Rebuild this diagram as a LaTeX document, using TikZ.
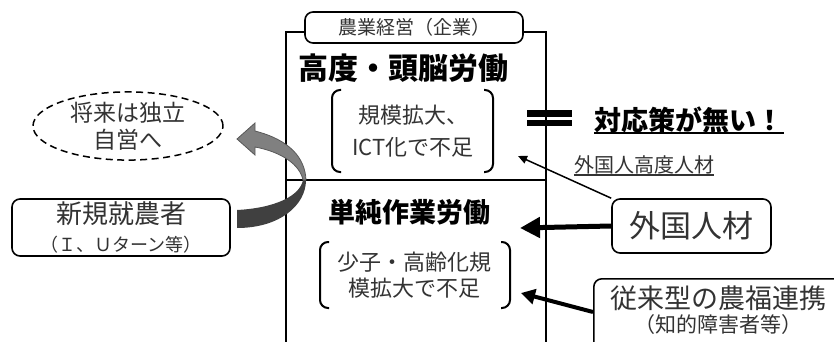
\documentclass[tikz,border=0pt]{standalone}
\usepackage{fontspec}
\setmainfont{Noto Sans CJK JP}
\usetikzlibrary{arrows.meta,calc,shapes.geometric}
\begin{document}
\begin{tikzpicture}[x=1pt,y=-1pt,
  txt/.style={inner sep=0pt, text=black!80},
  btxt/.style={inner sep=0pt, text=black, font=\bfseries},
  rbox/.style={draw, line width=1.6pt, rounded corners=8pt, fill=white, inner sep=0pt, text=black!80, align=center},
  bline/.style={line width=2.4pt},
  brk/.style={line width=2pt, rounded corners=8pt},
  thickarrow/.style={line width=5pt, -{Triangle[length=20pt,width=20pt]}},
  midarrow/.style={line width=4pt, -{Triangle[length=14pt,width=15pt]}},
  thinarrow/.style={line width=1.5pt, -{Triangle[length=9pt,width=8pt]}},
]
\useasboundingbox (0,0) rectangle (834,342);
\clip (0,0) rectangle (834,342);

% main frame
\coordinate (fbl) at (286,345);
\coordinate (ftl) at (286,32);
\coordinate (ftr) at (546,32);
\coordinate (fbr) at (546,345);
\coordinate (dl) at (286,180);
\coordinate (dr) at (546,180);
\draw[bline] (fbl) -- (ftl) -- (ftr) -- (fbr);
\draw[bline] (dl) -- (dr);

% label on top
\node[rbox, minimum width=218pt, minimum height=31pt, font=\fontsize{19}{22}\selectfont] (label) at (414,27.5) {農業経営（企業）};

% upper section
\node[btxt, font=\fontsize{30}{34}\selectfont\bfseries] (hi) at (403,68) {高度・頭脳労働};
\node[txt, align=center, font=\fontsize{22}{32}\selectfont] (hitxt) at (413,131) {規模拡大、\\ICT化で不足};
\draw[brk] (341,90) -- (332,90) -- (332,172) -- (341,172);
\draw[brk] (484,90) -- (493,90) -- (493,172) -- (484,172);

% lower section
\node[btxt, font=\fontsize{27}{30}\selectfont\bfseries] (lo) at (409,212) {単純作業労働};
\node[txt, align=center, font=\fontsize{22}{26}\selectfont] (lotxt) at (414,275) {少子・高齢化規\\模拡大で不足};
\draw[brk] (329,242) -- (320,242) -- (320,308) -- (329,308);
\draw[brk] (501,242) -- (510,242) -- (510,308) -- (501,308);

% left side
\node[draw, dash pattern=on 7pt off 4.5pt, line width=1.5pt, ellipse, minimum width=190pt, minimum height=68pt, inner sep=0pt, text=black!80, align=center, font=\fontsize{23}{27}\selectfont] (indep) at (128,126) {将来は独立\\自営へ};
\node[rbox, minimum width=218pt, minimum height=57pt, font=\fontsize{26}{30}\selectfont] (newf) at (121,227.5) {新規就農者\\[-2pt]{\fontsize{18}{20}\selectfont （Ｉ、Ｕターン等）}};

% curved gray arrow
\coordinate (ctail) at (237,219);
\coordinate (chead) at (237,139);
\fill[black!75] (237,210) .. controls (275,208) and (300,196) .. (303,180) -- (306,180) .. controls (306,205) and (280,228) .. (237,228) -- cycle;
\filldraw[fill=black!50, draw=black!65, line width=0.8pt] (306,180) .. controls (305,158) and (290,140) .. (255,131) -- (255,123) -- (chead) -- (255,155) -- (255,147) .. controls (282,152) and (300,165) .. (303,180) -- cycle;

% right side
\fill (527,110) rectangle (572,116.5);
\fill (527,120) rectangle (572,126);
\node[btxt, font=\fontsize{27}{30}\selectfont\bfseries] (nomeasure) at (689,120) {対応策が無い！};
\draw[line width=2pt] ([yshift=-2pt]nomeasure.base west) -- ([yshift=-2pt]nomeasure.base east);

\node[txt, font=\fontsize{20}{24}\selectfont] (hiforeign) at (644,164.5) {外国人高度人材};
\draw[line width=1.2pt, black!80] ([yshift=-3pt]hiforeign.base west) -- ([yshift=-3pt]hiforeign.base east);

\node[rbox, minimum width=159pt, minimum height=54pt, font=\fontsize{31}{34}\selectfont] (foreign) at (691.5,226) {外国人材};
\node[rbox, minimum width=260pt, minimum height=85pt, anchor=north west] (welfare) at (593,278) {};
\node[txt, align=center, font=\fontsize{27}{30}\selectfont] (weltxt) at (718,298) {従来型の農福連携};
\node[txt, font=\fontsize{21}{24}\selectfont] (weltxt2) at (718,325) {（知的障害者等）};

% connectors
\coordinate (tipA) at (518,156);
\coordinate (tipB) at (520,228);
\coordinate (tipC) at (521,293);
\coordinate (welsrc) at (593,312);
\draw[thinarrow] (foreign.north west) -- (tipA);
\draw[thickarrow] (foreign.west) -- (tipB);
\draw[midarrow] (welsrc) -- (tipC);
\end{tikzpicture}
\end{document}
